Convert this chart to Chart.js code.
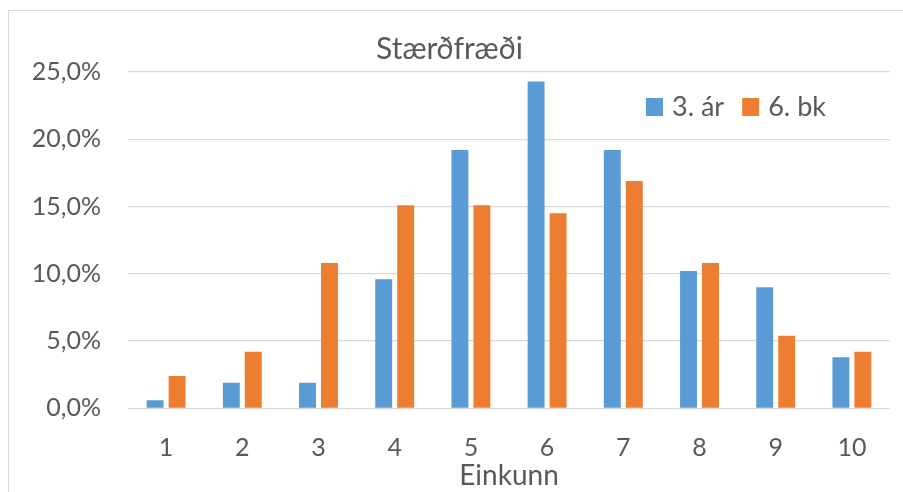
<!DOCTYPE html>
<html lang="is">
  <head>
    <meta charset="UTF-8" />
    <title>Stærðfræði</title>
    <script src="https://cdn.jsdelivr.net/npm/chart.js"></script>
    <style>
      html, body { margin: 0; padding: 0; background: #fff; overflow: hidden; }
      #chart-box {
        position: absolute;
        left: 8px;
        top: 10px;
        width: 910px;
        height: 500px;
        border: 1px solid #d9d9d9;
        background: #fff;
      }
    </style>
  </head>
  <body>
    <div id="chart-box">
      <canvas id="gradesChart" width="910" height="500"></canvas>
    </div>

    <script>
      // Einkunnadreifing í stærðfræði (hlutfall nemenda, %)
      const grades = ["1", "2", "3", "4", "5", "6", "7", "8", "9", "10"];
      const seriesNames = ["3. ár", "6. bk"];
      const year3 = [0.6, 1.9, 1.9, 9.6, 19.2, 24.3, 19.2, 10.2, 9.0, 3.8];
      const grade6 = [2.4, 4.2, 10.8, 15.1, 15.1, 14.5, 16.9, 10.8, 5.4, 4.2];
      const yTicks = [0, 5, 10, 15, 20, 25];
      const yTickLabels = ["0,0%", "5,0%", "10,0%", "15,0%", "20,0%", "25,0%"];

      const textColor = "#595959";
      const gridColor = "#d9d9d9";

      Chart.defaults.font.family = "Lato, 'Open Sans', sans-serif";
      Chart.defaults.color = textColor;

      // legend drawn inside the plot, top right
      const legendInside = {
        id: "legendInside",
        afterDraw(chart) {
          const { ctx, chartArea } = chart;
          ctx.save();
          ctx.font = "27px Lato";
          ctx.textBaseline = "middle";
          let x = chartArea.right - 244;
          const yMid = chartArea.top + 35;
          chart.data.datasets.forEach(ds => {
            ctx.fillStyle = ds.backgroundColor;
            ctx.fillRect(x, yMid - 9, 17, 18);
            x += 17 + 9;
            ctx.fillStyle = textColor;
            ctx.fillText(ds.label, x, yMid);
            x += ctx.measureText(ds.label).width + 18;
          });
          ctx.restore();
        },
      };

      const ctx = document.getElementById("gradesChart").getContext("2d");

      new Chart(ctx, {
        type: "bar",
        data: {
          labels: grades,
          datasets: [
            { label: seriesNames[0], data: year3, backgroundColor: "#5B9BD5" },
            { label: seriesNames[1], data: grade6, backgroundColor: "#ED7D31" },
          ],
        },
        options: {
          responsive: false,
          animation: false,
          barPercentage: 0.77,
          categoryPercentage: 0.577,
          layout: { padding: { left: 0, right: 29, top: 0, bottom: 0 } },
          plugins: {
            legend: { display: false },
            tooltip: { enabled: false },
            title: {
              display: true,
              text: "Stærðfræði",
              color: textColor,
              font: { size: 30, weight: "normal" },
              padding: { top: 20, bottom: 5 },
            },
          },
          scales: {
            x: {
              grid: { display: false },
              border: { display: false },
              ticks: { font: { size: 25 }, color: textColor, padding: 17 },
              title: {
                display: true,
                text: "Einkunn",
                color: textColor,
                font: { size: 28 },
                padding: { top: 0, bottom: 18 },
              },
              afterFit(scale) { scale.height = 102.7; },
            },
            y: {
              min: 0,
              max: 25,
              border: { display: false },
              grid: { color: gridColor, lineWidth: 1.3, drawTicks: false },
              afterBuildTicks(scale) {
                scale.ticks = yTicks.map(v => ({ value: v }));
              },
              ticks: {
                font: { size: 25 },
                color: textColor,
                padding: 27,
                callback: (value) => yTickLabels[yTicks.indexOf(value)],
              },
              afterFit(scale) { scale.width = 119; },
            },
          },
        },
        plugins: [legendInside],
      });
    </script>
  </body>
</html>
